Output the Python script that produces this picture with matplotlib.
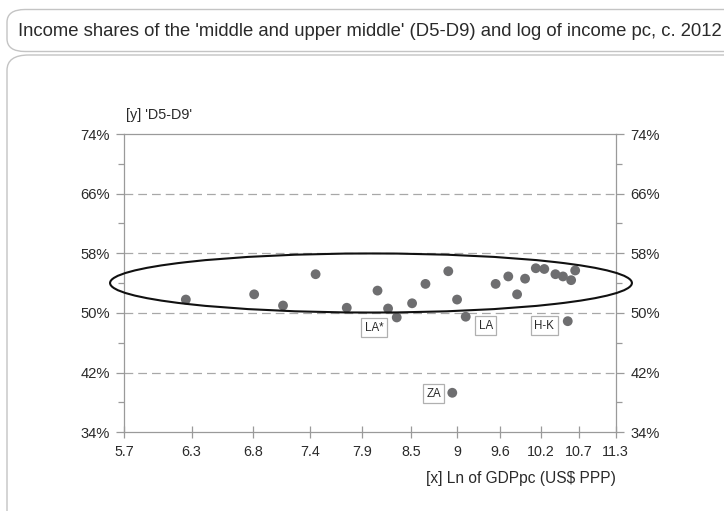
import numpy as np
import matplotlib.pyplot as plt
from matplotlib.patches import Ellipse, FancyBboxPatch
from matplotlib.ticker import FixedLocator, NullFormatter

plt.rcParams["font.family"] = ["Liberation Sans", "DejaVu Sans"]

# Ln of GDP per capita (x) and income share D5-D9 in % (y)
ln_gdppc = [6.21, 6.83, 7.11, 7.44, 7.77, 8.11, 8.23, 8.33, 8.51, 8.67, 8.95,
            9.06, 9.17, 9.56, 9.73, 9.85, 9.96, 10.11, 10.23, 10.39, 10.50,
            10.62, 10.68, 10.57, 9.00]
share_d5d9 = [51.8, 52.5, 51.0, 55.2, 50.7, 53.0, 50.6, 49.4, 51.3, 53.9, 55.6,
              51.8, 49.5, 53.9, 54.9, 52.5, 54.6, 56.0, 55.9, 55.2, 54.9,
              54.4, 55.7, 48.9, 39.3]

# boxed region labels
box_labels = ["LA*", "LA", "H-K", "ZA"]
box_x = [8.07, 9.43, 10.23, 8.77]
box_y = [48.0, 48.3, 48.3, 39.2]

x_ticks = [5.7 + 0.56 * k for k in range(11)]
x_tick_labels = ["5.7", "6.3", "6.8", "7.4", "7.9", "8.5", "9", "9.6", "10.2", "10.7", "11.3"]
y_major = [34, 42, 50, 58, 66, 74]
y_minor = [38, 46, 54, 62, 70]

axis_col = "#9a9a9a"
dot_col = "#6e6e70"
txt_col = "#2a2a2a"

fig = plt.figure(figsize=(7.24, 5.11), dpi=100)

# rounded frames for title and chart area
W, H = 724.0, 511.0
fig.patches.append(FancyBboxPatch((7 / W, (H - 51.5) / H), 760 / W, 42 / H,
                                  boxstyle="round,pad=0,rounding_size=0.025",
                                  transform=fig.transFigure, fc="none",
                                  ec="#c4c4c4", lw=1.0))
fig.patches.append(FancyBboxPatch((7 / W, -0.1), 760 / W, (H - 55) / H + 0.1,
                                  boxstyle="round,pad=0,rounding_size=0.03",
                                  transform=fig.transFigure, fc="none",
                                  ec="#c4c4c4", lw=1.0))
fig.text(722 / W, (H - 31) / H, "Income shares of the 'middle and upper middle' (D5-D9) and log of income pc, c. 2012",
         ha="right", va="center", fontsize=13.3, color=txt_col)

ax = fig.add_axes([124.3 / W, (H - 432.3) / H, 491.4 / W, 298.3 / H])
ax.set_xscale("log")
ax.set_xlim(5.7, 11.3)
ax.set_ylim(34, 74)

ax.xaxis.set_major_locator(FixedLocator(x_ticks))
ax.xaxis.set_minor_locator(FixedLocator([]))
ax.xaxis.set_minor_formatter(NullFormatter())
ax.set_xticklabels(x_tick_labels)

ax.set_yticks(y_major)
ax.set_yticks(y_minor, minor=True)
ax.set_yticklabels([f"{v}%" for v in y_major])

for v in y_major[1:-1]:
    ax.axhline(v, color="#a8a8a8", lw=0.9, ls=(0, (7, 4)), zorder=1)

for s in ax.spines.values():
    s.set_color(axis_col)
    s.set_linewidth(0.9)

ax.tick_params(axis="x", direction="inout", length=9, width=0.9, color=axis_col,
               labelsize=10.3, labelcolor=txt_col, pad=5)
ax.tick_params(axis="y", which="major", direction="out", length=6, width=0.9,
               color=axis_col, labelsize=10.6, labelcolor=txt_col, pad=4.5,
               left=True, right=True, labelleft=True, labelright=True)
ax.tick_params(axis="y", which="minor", direction="out", length=4, width=0.9,
               color=axis_col, left=True, right=True)

ax.scatter(ln_gdppc, share_d5d9, s=50, color=dot_col, edgecolors="none", zorder=3)

for lab, bx, by in zip(box_labels, box_x, box_y):
    ax.text(bx, by, lab, ha="center", va="center", fontsize=8.3, color=txt_col,
            bbox=dict(boxstyle="square,pad=0.3", fc="white", ec="#b0b0b0", lw=0.9),
            zorder=4)

ell = Ellipse((0.502, 0.5005), 1.062, 0.198, transform=ax.transAxes,
              fill=False, ec="#111111", lw=1.5, clip_on=False, zorder=5)
ax.add_patch(ell)

fig.text(126 / W, (H - 115) / H, "[y] 'D5-D9'", ha="left", va="center",
         fontsize=10.4, color=txt_col)
fig.text(616 / W, (H - 478) / H, "[x] Ln of GDPpc (US$ PPP)", ha="right",
         va="center", fontsize=11.2, color=txt_col)

fig.savefig("out.png", dpi=100)
